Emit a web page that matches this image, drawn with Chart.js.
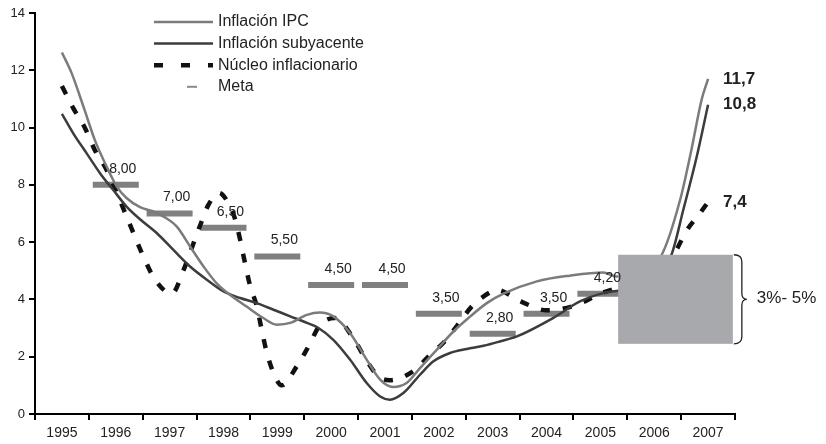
<!DOCTYPE html>
<html>
<head>
<meta charset="utf-8">
<script src="https://cdn.jsdelivr.net/npm/chart.js@4/dist/chart.umd.min.js"></script>
<style>
html,body{margin:0;padding:0;background:#fff;}
#grafico{display:block;}
</style>
</head>
<body>
<canvas id="grafico" width="826" height="444"></canvas>
<script>
const anos = ["1995","1996","1997","1998","1999","2000","2001","2002","2003","2004","2005","2006","2007"];

// Inflación IPC (posición en años, valor %)
const ipcX = [1995.00,1995.18,1995.40,1995.61,1995.83,1996.02,1996.20,1996.45,1996.70,1996.88,1997.13,1997.38,1997.63,1997.87,1998.12,1998.43,1998.74,1998.99,1999.24,1999.55,1999.79,2000.04,2000.35,2000.66,2000.91,2001.15,2001.40,2001.65,2001.96,2002.27,2002.58,2002.89,2003.20,2003.82,2004.43,2005.05,2005.30,2005.70,2006.14,2006.48,2006.69,2006.88,2007.00];
const ipcY = [12.62,11.90,10.73,9.57,8.64,7.94,7.54,7.22,7.07,6.90,6.55,5.85,5.15,4.57,4.16,3.75,3.35,3.12,3.18,3.46,3.54,3.41,2.83,1.90,1.20,0.94,1.08,1.60,2.24,2.88,3.40,3.87,4.20,4.63,4.83,4.94,4.80,4.85,5.56,7.47,9.22,10.97,11.70];

// Inflación subyacente
const subX = [1995.00,1995.21,1995.46,1995.71,1995.95,1996.20,1996.45,1996.76,1997.07,1997.38,1997.69,1998.00,1998.31,1998.62,1998.93,1999.24,1999.55,1999.75,2000.04,2000.35,2000.66,2000.91,2001.09,2001.34,2001.65,2001.90,2002.21,2002.52,2002.83,2003.13,2003.45,2004.12,2004.62,2005.05,2005.60,2006.00,2006.32,2006.54,2006.79,2007.00];
const subY = [10.48,9.80,9.10,8.40,7.83,7.24,6.80,6.32,5.73,5.15,4.69,4.28,4.05,3.87,3.64,3.41,3.18,3.02,2.59,1.90,1.08,0.61,0.50,0.73,1.37,1.84,2.13,2.27,2.38,2.53,2.71,3.35,3.93,4.22,4.40,4.80,5.56,7.13,8.99,10.80];

// Núcleo inflacionario
const nucX = [1995.00,1995.21,1995.43,1995.61,1995.83,1996.02,1996.20,1996.54,1996.73,1997.04,1997.26,1997.41,1997.56,1997.72,1997.92,1998.08,1998.21,1998.31,1998.40,1998.49,1998.62,1998.71,1998.80,1998.93,1999.08,1999.36,1999.58,1999.79,2000.07,2000.41,2000.63,2000.88,2001.09,2001.52,2001.84,2002.08,2002.33,2002.61,2002.98,2003.07,2003.52,2004.00,2004.55,2005.00,2005.60,2006.00,2006.39,2006.59,2006.85,2007.00];
const nucY = [11.45,10.68,9.98,9.22,8.52,7.71,6.90,5.38,4.69,4.20,5.03,5.79,6.55,7.30,7.72,7.40,6.84,6.08,5.27,4.51,3.75,2.94,2.18,1.43,1.00,1.66,2.36,3.10,3.35,2.65,1.95,1.31,1.18,1.49,2.07,2.48,3.06,3.75,4.28,4.34,3.93,3.62,3.80,4.20,4.60,5.00,5.67,6.37,7.01,7.40];

// Meta de inflación
const metaAnos = [1996,1997,1998,1999,2000,2001,2002,2003,2004,2005];
const metaValores = [8.00,7.00,6.50,5.50,4.50,4.50,3.50,2.80,3.50,4.20];

// Rango meta 2006-2007
const rangoMetaX = [2005.33, 2007.46];
const rangoMetaY = [2.45, 5.56];
const textoRango = "3%- 5%";

const leyenda = ["Inflación IPC","Inflación subyacente","Núcleo inflacionario","Meta"];

const FUENTE = "'Liberation Sans', Arial, sans-serif";

function puntos(xs, ys){
return xs.map((x,i)=>({x:x, y:ys[i]}));
}

function coma(v, d){
return v.toFixed(d).replace(".", ",");
}

const adornos = {
id:"adornos",
afterDatasetsDraw(chart){
const ctx = chart.ctx;
const sx = chart.scales.x;
const sy = chart.scales.y;

// caja del rango meta
const x0 = sx.getPixelForValue(rangoMetaX[0]);
const x1 = sx.getPixelForValue(rangoMetaX[1]);
const yT = sy.getPixelForValue(rangoMetaY[1]);
const yB = sy.getPixelForValue(rangoMetaY[0]);
ctx.save();
ctx.fillStyle = "#a8a9ad";
ctx.fillRect(x0, yT, x1 - x0, yB - yT);

// llave
const mid = (yT + yB) / 2;
const bx = x1 + 1;
ctx.strokeStyle = "#222";
ctx.lineWidth = 1.3;
ctx.beginPath();
ctx.moveTo(bx, yT);
ctx.quadraticCurveTo(bx + 8, yT, bx + 8, yT + 7);
ctx.lineTo(bx + 8, mid - 6);
ctx.quadraticCurveTo(bx + 8, mid, bx + 13, mid);
ctx.quadraticCurveTo(bx + 8, mid, bx + 8, mid + 6);
ctx.lineTo(bx + 8, yB - 7);
ctx.quadraticCurveTo(bx + 8, yB, bx, yB);
ctx.stroke();

ctx.fillStyle = "#222";
ctx.font = "17px " + FUENTE;
ctx.textAlign = "left";
ctx.textBaseline = "middle";
ctx.fillText(textoRango, bx + 23, mid - 1);

// etiquetas de la meta
ctx.font = "14px " + FUENTE;
ctx.textAlign = "center";
metaAnos.forEach((a,i)=>{
const px = sx.getPixelForValue(a) + 7;
const py = sy.getPixelForValue(metaValores[i]) - 16;
ctx.fillText(coma(metaValores[i], 2), px, py);
});

// valores finales
ctx.font = "bold 17px " + FUENTE;
ctx.textAlign = "left";
[[ipcX, ipcY],[subX, subY],[nucX, nucY]].forEach(s=>{
const n = s[0].length - 1;
const px = sx.getPixelForValue(s[0][n]) + 15;
const py = sy.getPixelForValue(s[1][n]);
ctx.fillText(coma(s[1][n], 1), px, py);
});

// leyenda
const estilos = chart.data.datasets;
ctx.font = "16px " + FUENTE;
ctx.textBaseline = "middle";
leyenda.forEach((t,i)=>{
const y = 22 + i * 21.6;
const d = estilos[i];
ctx.beginPath();
if(i < 3){
ctx.strokeStyle = d.borderColor;
ctx.lineWidth = d.borderWidth;
ctx.setLineDash(d.borderDash ? [9,18] : []);
ctx.moveTo(154, y);
ctx.lineTo(213, y);
}else{
ctx.strokeStyle = "#8a8a8a";
ctx.lineWidth = 2;
ctx.setLineDash([]);
ctx.moveTo(187, y);
ctx.lineTo(197, y);
}
ctx.stroke();
ctx.setLineDash([]);
ctx.fillStyle = "#222";
ctx.fillText(t, 218, y);
});
ctx.restore();
}
};

new Chart(document.getElementById("grafico"), {
type:"line",
data:{
datasets:[
{
label:leyenda[0],
data:puntos(ipcX, ipcY),
borderColor:"#7b7b7b",
borderWidth:2.5,
pointRadius:0,
cubicInterpolationMode:"monotone",
fill:false
},
{
label:leyenda[1],
data:puntos(subX, subY),
borderColor:"#3c3c3c",
borderWidth:2.5,
pointRadius:0,
cubicInterpolationMode:"monotone",
fill:false
},
{
label:leyenda[2],
data:puntos(nucX, nucY),
borderColor:"#111",
borderWidth:4.5,
borderDash:[9,13],
borderCapStyle:"butt",
pointRadius:0,
cubicInterpolationMode:"monotone",
fill:false
},
{
label:leyenda[3],
data:puntos(metaAnos, metaValores),
showLine:false,
pointStyle:"line",
pointRadius:23,
pointHoverRadius:23,
pointBorderWidth:6,
pointBorderColor:"#808080",
pointBackgroundColor:"#808080"
}
]
},
options:{
responsive:false,
animation:false,
events:[],
layout:{ autoPadding:false, padding:{ top:13, right:91, left:0, bottom:0 } },
plugins:{
legend:{ display:false },
tooltip:{ enabled:false }
},
scales:{
x:{
type:"linear",
min:1994.5,
max:2007.5,
afterBuildTicks:s=>{ s.ticks = anos.map(a=>({ value:Number(a) })); },
afterFit:s=>{ s.height = 30; s.paddingLeft = 0; s.paddingRight = 0; },
ticks:{
callback:v=>String(v),
autoSkip:false,
maxRotation:0,
color:"#222",
font:{ family:FUENTE, size:14 },
padding:5
},
grid:{
offset:true,
drawOnChartArea:false,
drawTicks:true,
tickLength:6,
color:"#000",
lineWidth:2
},
border:{ color:"#000", width:2 }
},
y:{
min:0,
max:14,
afterFit:s=>{ s.width = 35; s.paddingTop = 0; s.paddingBottom = 0; },
ticks:{
stepSize:2,
color:"#222",
font:{ family:FUENTE, size:13 },
padding:4
},
grid:{
drawOnChartArea:false,
drawTicks:true,
tickLength:6,
color:"#000",
lineWidth:2
},
border:{ color:"#000", width:2 }
}
}
},
plugins:[adornos]
});
</script>
</body>
</html>
